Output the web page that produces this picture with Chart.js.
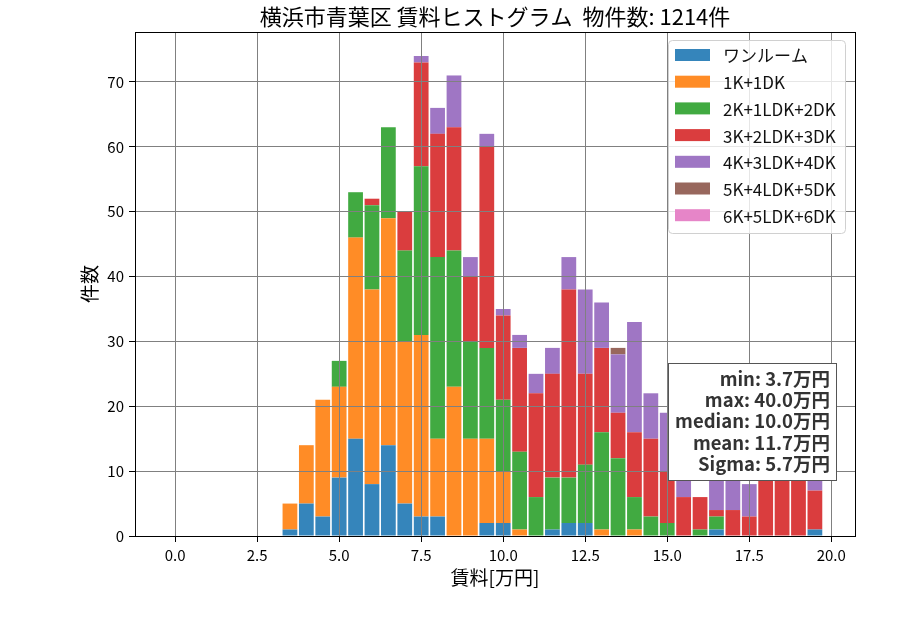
<!DOCTYPE html>
<html>
<head>
<meta charset="utf-8">
<script src="https://cdn.jsdelivr.net/npm/chart.js@4.4.1/dist/chart.umd.min.js"></script>
<style>
  html, body { margin: 0; padding: 0; background: #fff; }
  #wrap { width: 900px; height: 630px; }
</style>
</head>
<body>
<div id="wrap"><canvas id="mycanvas" width="900" height="630"></canvas></div>
<script>
// bin centers (0.5 wide), 0.0 ... 19.5
var binCenters = [];
for (var b = 0; b < 40; b++) binCenters.push(b * 0.5);

// counts per bin (first 7 bins are empty)
var oneRoom  = [0,0,0,0,0,0,0, 1,5,3,9,15,8,14,5,3,3,0,0,2,2,0,0,1,2,2,0,0,0,0,0,0,0,1,0,0,0,0,0,1];
var k1dk     = [0,0,0,0,0,0,0, 4,9,18,14,31,30,35,25,28,12,23,15,13,8,1,0,0,0,0,1,0,1,0,0,0,0,0,0,0,0,0,0,0];
var k2dk     = [0,0,0,0,0,0,0, 0,0,0,4,7,13,14,14,26,28,21,15,14,11,12,6,8,7,9,15,12,5,3,2,0,1,2,0,0,0,0,0,0];
var k3dk     = [0,0,0,0,0,0,0, 0,0,0,0,0,1,0,6,16,19,19,10,31,13,16,16,16,29,14,13,7,10,12,8,6,5,1,4,3,14,13,12,6];
var k4dk     = [0,0,0,0,0,0,0, 0,0,0,0,0,0,0,0,1,4,8,3,2,1,2,3,4,5,13,7,9,17,7,9,6,0,7,8,5,0,0,0,3];
var k5dk     = [0,0,0,0,0,0,0, 0,0,0,0,0,0,0,0,0,0,0,0,0,0,0,0,0,0,0,0,1,0,0,0,0,0,0,0,0,0,0,0,0];
var k6dk     = [0,0,0,0,0,0,0, 0,0,0,0,0,0,0,0,0,0,0,0,0,0,0,0,0,0,0,0,0,0,0,0,0,0,0,0,0,0,0,0,0];

var seriesNames = ["ワンルーム", "1K+1DK", "2K+1LDK+2DK", "3K+2LDK+3DK", "4K+3LDK+4DK", "5K+4LDK+5DK", "6K+5LDK+6DK"];
var seriesData = [oneRoom, k1dk, k2dk, k3dk, k4dk, k5dk, k6dk];
var seriesColors = ["#3585bb", "#ff8c26", "#41aa41", "#da3d3e", "#9f76c4", "#98675d", "#e685c8"];

var xTicks = [0, 2.5, 5, 7.5, 10, 12.5, 15, 17.5, 20];
var yTicks = [0, 10, 20, 30, 40, 50, 60, 70];

var titleText = "横浜市青葉区 賃料ヒストグラム  物件数: 1214件";
var xLabel = "賃料[万円]";
var yLabel = "件数";
var statsLines = ["min: 3.7万円", "max: 40.0万円", "median: 10.0万円", "mean: 11.7万円", "Sigma: 5.7万円"];

var FONT = '"Noto Sans CJK JP", "Noto Sans", sans-serif';

var datasets = [];
for (var i = 0; i < seriesNames.length; i++) {
  datasets.push({
    label: seriesNames[i],
    data: seriesData[i],
    backgroundColor: seriesColors[i],
    borderWidth: 0,
    barPercentage: 0.9,
    categoryPercentage: 1.0
  });
}

function roundRect(ctx, x, y, w, h, r) {
  ctx.beginPath();
  ctx.moveTo(x + r, y);
  ctx.lineTo(x + w - r, y);
  ctx.quadraticCurveTo(x + w, y, x + w, y + r);
  ctx.lineTo(x + w, y + h - r);
  ctx.quadraticCurveTo(x + w, y + h, x + w - r, y + h);
  ctx.lineTo(x + r, y + h);
  ctx.quadraticCurveTo(x, y + h, x, y + h - r);
  ctx.lineTo(x, y + r);
  ctx.quadraticCurveTo(x, y, x + r, y);
  ctx.closePath();
}

var decorPlugin = {
  id: 'decor',
  afterDraw: function(chart) {
    var ctx = chart.ctx;
    var a = chart.chartArea;
    ctx.save();

    // frame
    ctx.strokeStyle = '#000';
    ctx.lineWidth = 1;
    ctx.strokeRect(Math.round(a.left) + 0.5, Math.round(a.top) + 0.5,
                   Math.round(a.right - a.left), Math.round(a.bottom - a.top));

    // title
    ctx.fillStyle = '#000';
    ctx.font = '22px ' + FONT;
    ctx.textAlign = 'center';
    ctx.textBaseline = 'middle';
    ctx.fillText(titleText, (a.left + a.right) / 2, 17);

    // axis labels
    ctx.font = '19px ' + FONT;
    ctx.fillText(xLabel, (a.left + a.right) / 2, 578);
    ctx.save();
    ctx.translate(90, (a.top + a.bottom) / 2);
    ctx.rotate(-Math.PI / 2);
    ctx.fillText(yLabel, 0, 0);
    ctx.restore();

    // legend
    var lx = 668.5, ly = 40.5, lw = 177, lh = 193;
    roundRect(ctx, lx, ly, lw, lh, 4);
    ctx.fillStyle = 'rgba(255,255,255,0.8)';
    ctx.fill();
    ctx.strokeStyle = '#d0d0d0';
    ctx.stroke();
    ctx.font = '17px ' + FONT;
    ctx.textAlign = 'left';
    for (var i = 0; i < seriesNames.length; i++) {
      var cy = 55 + i * 26.7;
      ctx.fillStyle = seriesColors[i];
      ctx.fillRect(675, cy - 6, 35, 12);
      ctx.fillStyle = '#111';
      ctx.fillText(seriesNames[i], 723, cy + 1);
    }

    // stats box
    ctx.fillStyle = '#fff';
    ctx.fillRect(668.5, 363.5, 168, 117);
    ctx.strokeStyle = '#555';
    ctx.strokeRect(668.5, 363.5, 168, 117);
    ctx.fillStyle = '#333';
    ctx.font = 'bold 18.5px ' + FONT;
    ctx.textAlign = 'right';
    for (var j = 0; j < statsLines.length; j++) {
      ctx.fillText(statsLines[j], 830, 378.5 + j * 21.4);
    }
    ctx.restore();
  }
};

var ctx = document.getElementById('mycanvas');
var chart = new Chart(ctx, {
  type: 'bar',
  data: { labels: binCenters, datasets: datasets },
  options: {
    responsive: false,
    animation: false,
    layout: { padding: { left: 0, right: 45, top: 32, bottom: 0 } },
    plugins: { legend: { display: false }, title: { display: false }, tooltip: { enabled: false } },
    scales: {
      x: {
        type: 'linear',
        stacked: true,
        offset: false,
        min: -1.2225,
        max: 20.7225,
        afterBuildTicks: function(s) { s.ticks = xTicks.map(function(v) { return { value: v }; }); },
        afterFit: function(s) { s.height = 94; },
        ticks: {
          autoSkip: false, maxRotation: 0, padding: 4, color: '#000',
          font: { family: FONT, size: 15 },
          callback: function(v) { return Number(v).toFixed(1); }
        },
        grid: { offset: false, color: '#808080', lineWidth: 1, z: 1, tickLength: 6, tickColor: '#000' },
        border: { display: false }
      },
      y: {
        stacked: true,
        min: 0,
        max: 77.7,
        afterBuildTicks: function(s) { s.ticks = yTicks.map(function(v) { return { value: v }; }); },
        afterFit: function(s) { s.width = 135; },
        ticks: { padding: 5, color: '#000', font: { family: FONT, size: 15 } },
        grid: { color: '#808080', lineWidth: 1, z: 1, tickLength: 6, tickColor: '#000' },
        border: { display: false }
      }
    }
  },
  plugins: [decorPlugin]
});
</script>
</body>
</html>
